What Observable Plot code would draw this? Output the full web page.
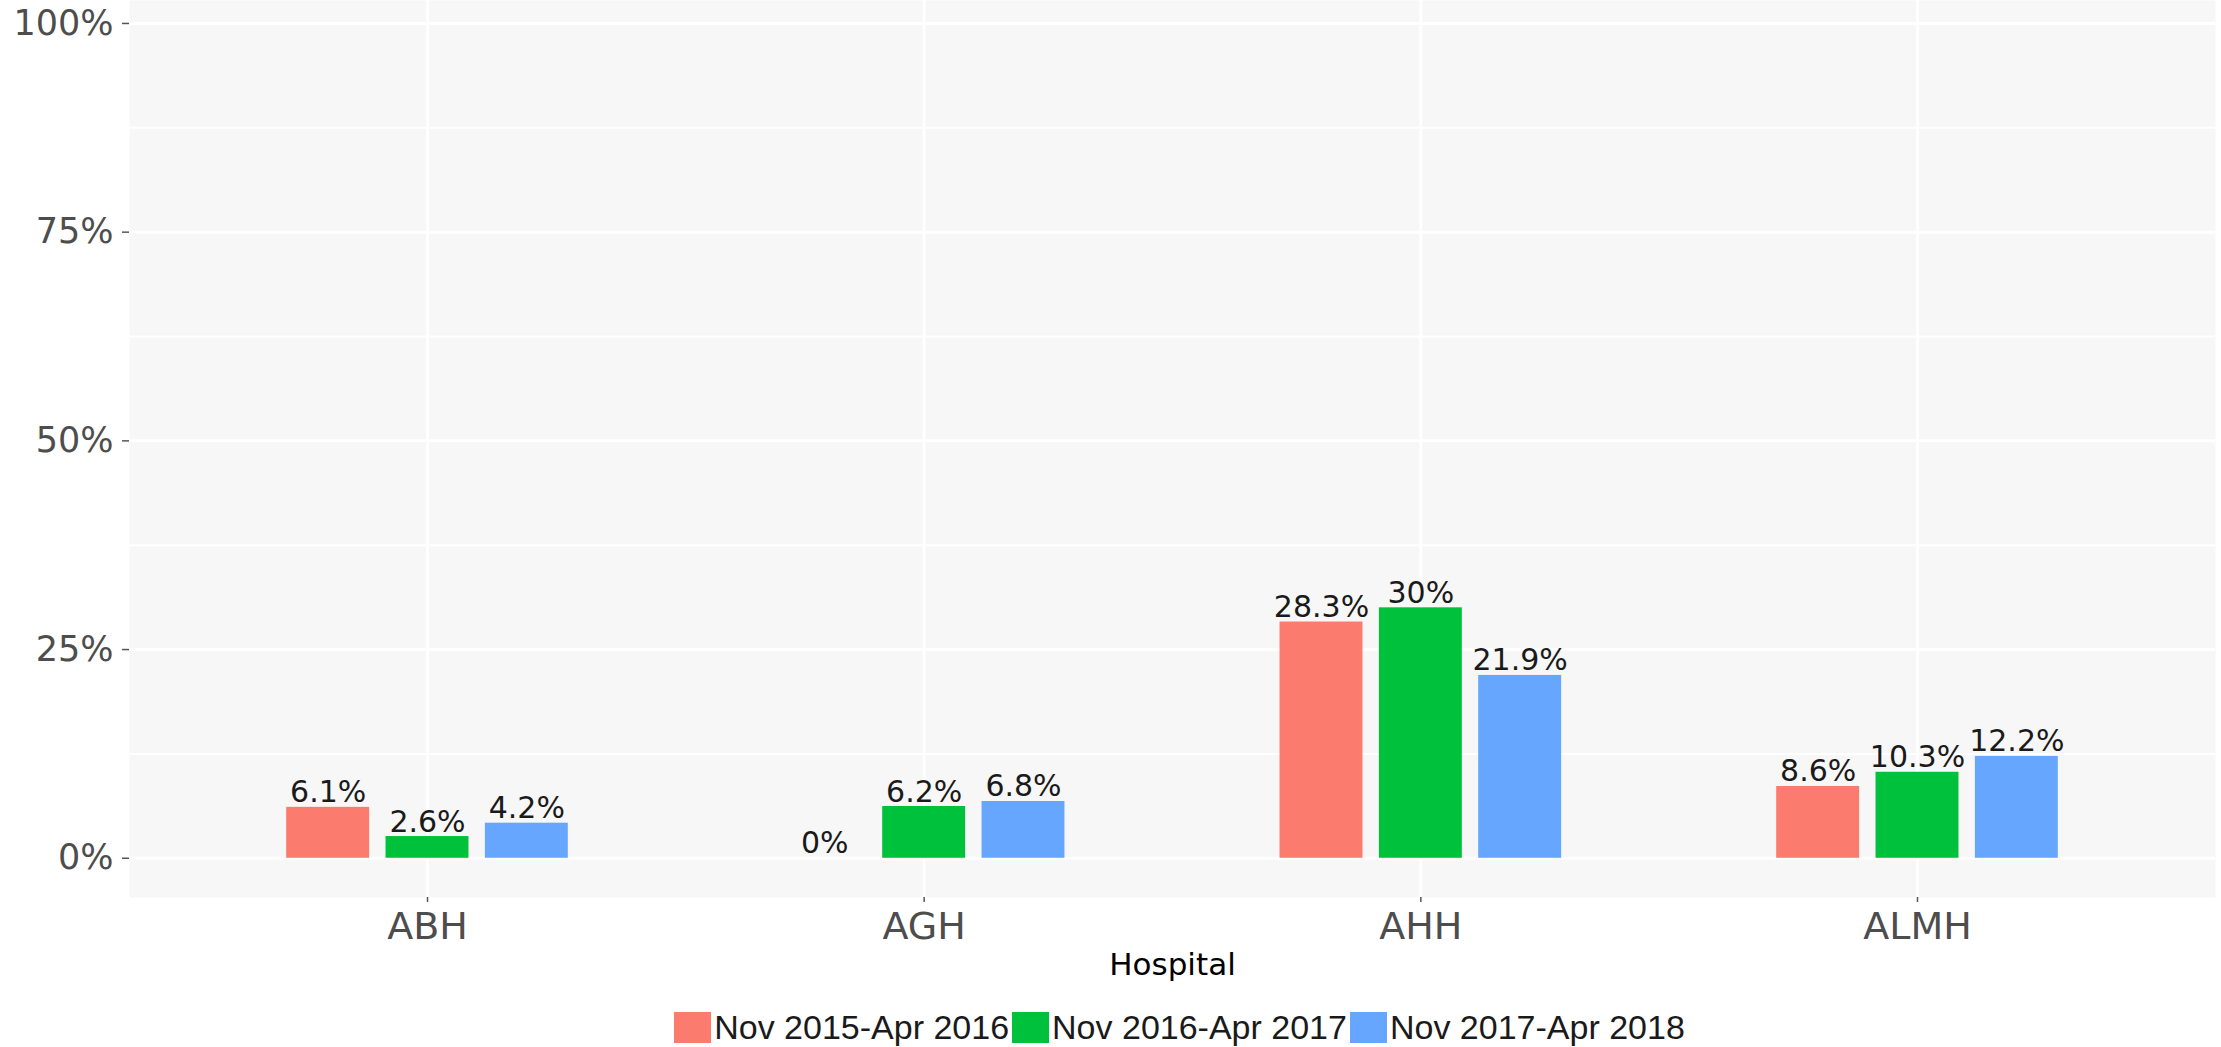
<!DOCTYPE html>
<html>
<head>
<meta charset="utf-8">
<script src="https://cdn.jsdelivr.net/npm/d3@7"></script>
<script src="https://cdn.jsdelivr.net/npm/@observablehq/plot@0.6"></script>
<style>
  body { margin: 0; background: #fff; }
  svg { display: block; }
</style>
</head>
<body>
<div id="chart"></div>
<script>
// ---- data ----
const hospitals = ["ABH", "AGH", "AHH", "ALMH"];
const periods = ["Nov 2015-Apr 2016", "Nov 2016-Apr 2017", "Nov 2017-Apr 2018"];
const valuesNov2015 = [6.1, 0, 28.3, 8.6];
const valuesNov2016 = [2.6, 6.2, 30, 10.3];
const valuesNov2017 = [4.2, 6.8, 21.9, 12.2];
const yTicks = [0, 25, 50, 75, 100];
const yMinorTicks = [12.5, 37.5, 62.5, 87.5];
const colors = ["#FC7B6F", "#00C13B", "#67A6FF"];

// ---- layout (ggplot-like dodge) ----
const seriesValues = [valuesNov2015, valuesNov2016, valuesNov2017];
const dodge = 0.2, barHalf = 0.0835;
const rows = periods.flatMap((p, j) =>
  seriesValues[j].map((v, i) => ({
    hospital: hospitals[i], period: p, value: v,
    pos: i + 1 + (j - 1) * dodge
  }))
);
const categoryPos = hospitals.map((h, i) => i + 1);
const font = "'DejaVu Sans', Verdana, sans-serif";
const legendFont = "'Liberation Sans', Arial, Helvetica, sans-serif";

const plot = Plot.plot({
  width: 2221,
  height: 990,
  marginLeft: 129,
  marginRight: 6,
  marginTop: 0,
  marginBottom: 93,
  style: {fontFamily: font, background: "white"},
  x: {type: "linear", domain: [0.4, 4.6]},
  y: {domain: [-4.7, 102.75]},
  color: {domain: periods, range: colors},
  marks: [
    Plot.frame({fill: "#F7F7F7", stroke: "none"}),
    Plot.ruleY(yMinorTicks, {stroke: "white", strokeWidth: 2}),
    Plot.ruleY(yTicks, {stroke: "white", strokeWidth: 3}),
    Plot.ruleX(categoryPos, {stroke: "white", strokeWidth: 3}),
    Plot.rect(rows, {
      x1: d => d.pos - barHalf,
      x2: d => d.pos + barHalf,
      y1: () => 0,
      y2: "value",
      fill: "period"
    }),
    Plot.text(rows, {
      x: "pos", y: "value", text: d => d.value + "%",
      lineAnchor: "bottom", dy: -5, fontSize: 30, fill: "#1a1a1a"
    }),
    Plot.axisY({
      ticks: yTicks, tickFormat: d => d + "%", tickSize: 7, tickPadding: 9,
      fontSize: 35, fill: "#4d4d4d", stroke: "#555", strokeWidth: 1.5, label: null
    }),
    Plot.axisX({
      ticks: categoryPos, tickFormat: d => hospitals[d - 1], tickSize: 5, tickPadding: 10,
      fontSize: 38, fill: "#4d4d4d", stroke: "#555", strokeWidth: 1.5, label: null
    }),
    Plot.text(["Hospital"], {
      text: d => d, frameAnchor: "bottom", lineAnchor: "top", dy: 55,
      fontSize: 31, fill: "#000"
    })
  ]
});

const chart = document.getElementById("chart");
chart.appendChild(plot);

const legend = plot.legend("color", {
  swatchWidth: 37,
  swatchHeight: 31
});
legend.style.fontFamily = legendFont;
legend.style.fontSize = "34px";
legend.style.color = "#1a1a1a";
legend.style.justifyContent = "center";
legend.style.paddingLeft = "141px";
legend.style.marginTop = "18px";
legend.style.marginBottom = "0";
legend.querySelectorAll("span").forEach(s => { s.style.marginRight = "3px"; });
legend.querySelectorAll("span > svg").forEach(s => { s.style.marginRight = "3px"; });
chart.appendChild(legend);
</script>
</body>
</html>
